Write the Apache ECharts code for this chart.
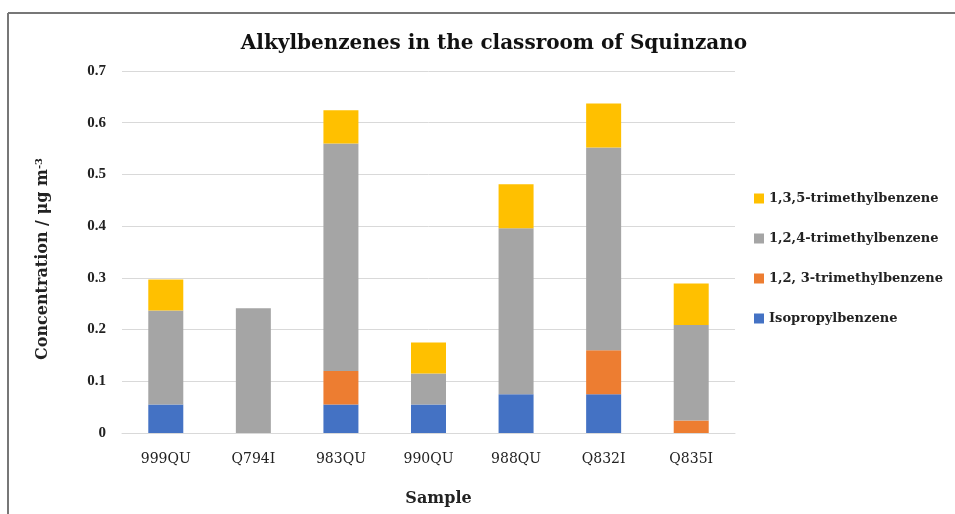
<!DOCTYPE html>
<html>
<head>
<meta charset="utf-8">
<script src="https://cdn.jsdelivr.net/npm/echarts@6/dist/echarts.min.js"></script>
<style>
html,body{margin:0;padding:0;background:#fff;}
#main{width:955px;height:514px;}
</style>
</head>
<body>
<div id="main"></div>
<script>
var samples = ['999QU', 'Q794I', '983QU', '990QU', '988QU', 'Q832I', 'Q835I'];
var isopropyl = [0.055, 0, 0.055, 0.055, 0.075, 0.075, 0];
var tmb123 = [0, 0, 0.065, 0, 0, 0.085, 0.024];
var tmb124 = [0.182, 0.241, 0.44, 0.06, 0.321, 0.392, 0.185];
var tmb135 = [0.06, 0, 0.064, 0.06, 0.085, 0.085, 0.08];
var yTicks = [0, 0.1, 0.2, 0.3, 0.4, 0.5, 0.6, 0.7];

var serif = '"Liberation Serif", "DejaVu Serif", serif';
var wide = '"DejaVu Serif", serif';

function makeSeries(name, data, color) {
	return {
		name: name,
		type: 'bar',
		stack: 'total',
		barWidth: 35,
		itemStyle: {color: color},
		data: data
	};
}

var chart = echarts.init(document.getElementById('main'));
var option = {
	animation: false,
	backgroundColor: '#fff',
	title: {
		text: 'Alkylbenzenes in the classroom of Squinzano',
		left: 489,
		textAlign: 'center',
		top: 29,
		textStyle: {fontFamily: wide, fontSize: 20, fontWeight: 'bold', color: '#111'}
	},
	legend: {
		orient: 'vertical',
		left: 749,
		top: 187,
		itemGap: 27,
		itemWidth: 10,
		itemHeight: 10,
		icon: 'rect',
		data: ['1,3,5-trimethylbenzene', '1,2,4-trimethylbenzene', '1,2, 3-trimethylbenzene', 'Isopropylbenzene'],
		textStyle: {fontFamily: wide, fontSize: 13, fontWeight: 'bold', color: '#222'}
	},
	grid: {left: 122, right: 220, top: 71, bottom: 81},
	xAxis: {
		type: 'category',
		data: samples,
		name: 'Sample',
		nameLocation: 'middle',
		nameGap: 58,
		nameTextStyle: {fontFamily: wide, fontSize: 16, fontWeight: 'bold', color: '#222', padding: [0, 0, 0, 20]},
		axisLine: {lineStyle: {color: '#d9d9d9', width: 1}},
		axisTick: {show: false},
		axisLabel: {fontFamily: wide, fontSize: 14, color: '#222', margin: 19}
	},
	yAxis: {
		type: 'value',
		min: 0,
		max: 0.7,
		interval: 0.1,
		name: 'Concentration / μg m{sup|-3}',
		nameLocation: 'middle',
		nameGap: 70,
		nameRotate: 90,
		nameTextStyle: {
			fontFamily: wide, fontSize: 16, fontWeight: 'bold', color: '#222', padding: [0, 14, 0, 0],
			rich: {sup: {fontFamily: wide, fontSize: 10, fontWeight: 'bold', color: '#222', verticalAlign: 'top', padding: [0, 0, 8, 0]}}
		},
		axisLine: {show: false},
		axisTick: {show: false},
		splitLine: {lineStyle: {color: '#d9d9d9', width: 1}},
		axisLabel: {
			fontFamily: serif, fontSize: 15, fontWeight: 'bold', color: '#222', margin: 16,
			formatter: function (v) {
				for (var i = 0; i < yTicks.length; i++) {
					if (Math.abs(v - yTicks[i]) < 1e-9) return yTicks[i] === 0 ? '0' : yTicks[i].toFixed(1);
				}
				return '';
			}
		}
	},
	graphic: [
		{type: 'line', shape: {x1: 8, y1: 13, x2: 955, y2: 13}, style: {stroke: '#777', lineWidth: 2}},
		{type: 'line', shape: {x1: 8, y1: 13, x2: 8, y2: 514}, style: {stroke: '#777', lineWidth: 2}}
	],
	series: [
		makeSeries('Isopropylbenzene', isopropyl, '#4472c4'),
		makeSeries('1,2, 3-trimethylbenzene', tmb123, '#ed7d31'),
		makeSeries('1,2,4-trimethylbenzene', tmb124, '#a5a5a5'),
		makeSeries('1,3,5-trimethylbenzene', tmb135, '#ffc000')
	]
};
chart.setOption(option);
</script>
</body>
</html>
